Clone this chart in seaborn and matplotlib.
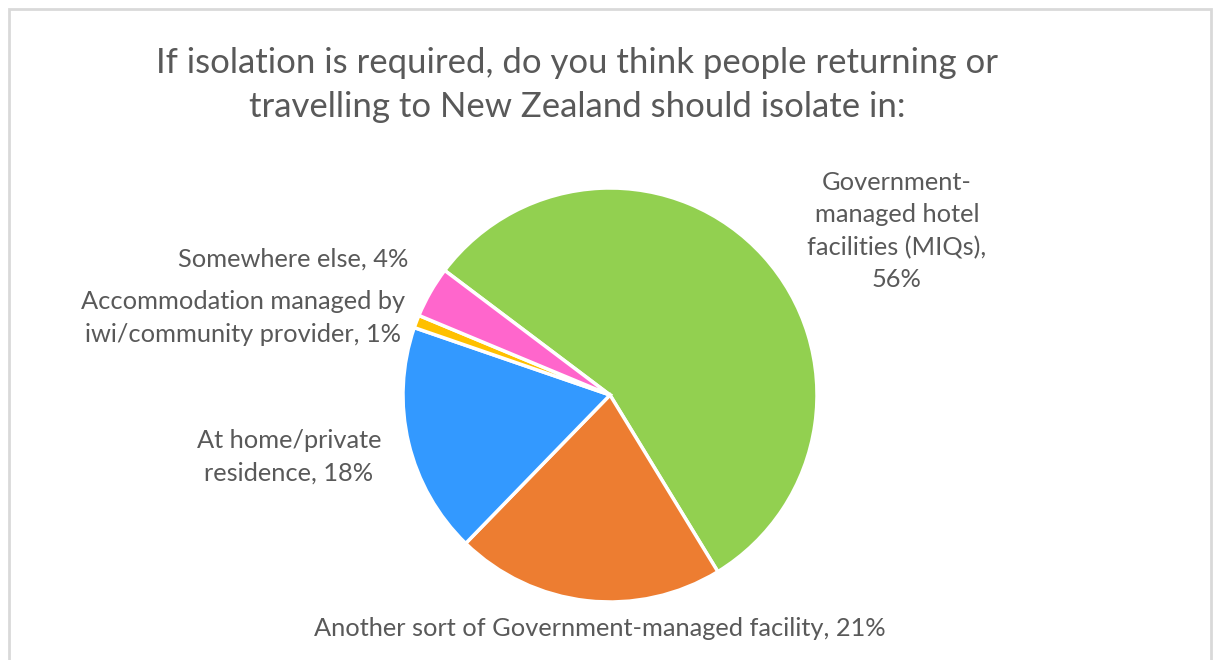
import matplotlib
matplotlib.use("Agg")
import matplotlib.pyplot as plt
import seaborn as sns
from matplotlib.patches import Rectangle

# data
labels = ["Government-\nmanaged hotel\nfacilities (MIQs),\n56%",
          "Another sort of Government-managed facility, 21%",
          "At home/private\nresidence, 18%",
          "Accommodation managed by\niwi/community provider, 1%",
          "Somewhere else, 4%"]
values = [56, 21, 18, 1, 4]
colors = ["#92D050", "#ED7D31", "#3399FF", "#FFC000", "#FF66CC"]
title = "If isolation is required, do you think people returning or\ntravelling to New Zealand should isolate in:"

sns.set_theme(style="white")
plt.rcParams['font.family'] = ['Lato', 'DejaVu Sans']

W, H = 1213, 660
fig = plt.figure(figsize=(W / 100, H / 100), dpi=100)
ax = fig.add_axes([0, 0, 1, 1])
ax.set_xlim(0, W)
ax.set_ylim(0, H)
ax.set_aspect('equal')
ax.axis('off')

# frame
ax.add_patch(Rectangle((9, -10), 1202, H - 9 + 10, fill=False, edgecolor="#D9D9D9", linewidth=2))

ax.pie(values, colors=colors, startangle=143, counterclock=False,
       center=(610, H - 395), radius=207,
       wedgeprops=dict(edgecolor="white", linewidth=2.5))
ax.set_xlim(0, W)
ax.set_ylim(0, H)

gray = "#595959"
ax.text(577, H - 85, title, ha='center', va='center', fontsize=25, color=gray,
        linespacing=1.45)

# label positions (pixel coordinates of text centre)
label_pos = [(897, H - 231), (600, H - 629), (289, H - 457), (243, H - 318), (293, H - 259)]
for lab, (x, y) in zip(labels, label_pos):
    ax.text(x, y, lab, ha='center', va='center', multialignment='center',
            fontsize=18.3, color=gray, linespacing=1.5)

fig.savefig("out.png", dpi=100)
